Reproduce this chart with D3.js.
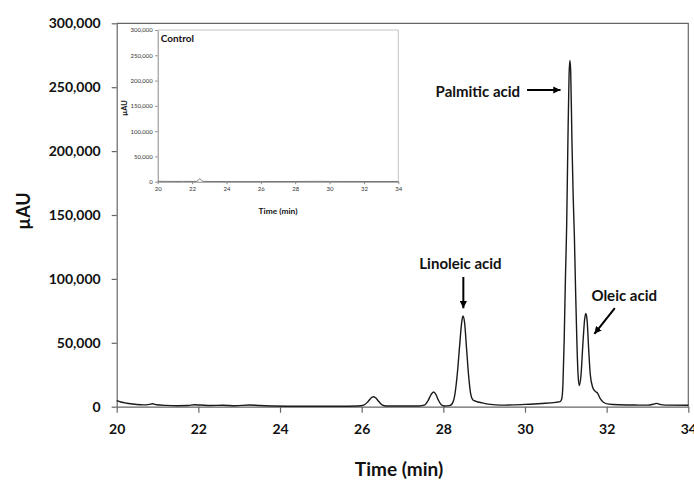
<!DOCTYPE html>
<html>
<head>
<meta charset="utf-8">
<script src="https://cdn.jsdelivr.net/npm/d3@7"></script>
<style>
  body { margin: 0; background: #fff; }
  svg { font-family: Lato, "Open Sans", sans-serif; }
  .lbl { font-weight: bold; fill: #111; }
</style>
</head>
<body>
<svg id="chart" width="694" height="480"></svg>
<script>
// main chromatogram (time in min, signal in µAU)
const mainTime = [20.00, 20.10, 20.25, 20.45, 20.65, 20.80, 20.88, 20.98, 21.20, 21.50, 21.75, 21.90, 22.05, 22.30, 22.60, 22.90,
  23.25, 23.50, 23.80, 24.20, 24.80, 25.40, 25.90, 26.05, 26.15, 26.22, 26.28, 26.34, 26.42, 26.50, 26.60, 27.00,
  27.40, 27.55, 27.63, 27.70, 27.76, 27.82, 27.88, 27.95, 28.02, 28.15, 28.22, 28.28, 28.34, 28.40, 28.45, 28.48,
  28.52, 28.57, 28.62, 28.67, 28.72, 28.80, 28.95, 29.15, 29.40, 29.70, 30.00, 30.40, 30.75, 30.86, 30.90, 30.93,
  30.96, 30.99, 31.02, 31.05, 31.08, 31.10, 31.12, 31.15, 31.18, 31.21, 31.24, 31.27, 31.30, 31.33, 31.37, 31.42,
  31.46, 31.49, 31.52, 31.56, 31.60, 31.66, 31.72, 31.78, 31.84, 31.92, 32.05, 32.30, 32.70, 33.00, 33.15, 33.22,
  33.30, 33.45, 34.00]
const mainSignal = [4800, 3700, 2700, 1900, 1400, 1800, 2300, 1500, 1000, 800, 900, 1500, 1300, 900, 1100, 800,
  1300, 900, 600, 400, 300, 300, 500, 1200, 3800, 6500, 7800, 7000, 4000, 1500, 600, 500,
  600, 1500, 5000, 9500, 11500, 9500, 5000, 1500, 500, 800, 2500, 9000, 25000, 48000, 66000, 71000,
  66000, 45000, 24000, 10000, 5500, 4200, 3000, 1800, 1200, 1400, 1800, 2500, 3400, 4000, 6000, 18000,
  52000, 100000, 140000, 205000, 260000, 271000, 262000, 208000, 165000, 133000, 90000, 52000, 25000, 16500, 24000, 50000,
  68000, 73000, 68000, 45000, 25000, 15000, 12000, 10500, 6500, 3500, 2000, 1500, 1300, 1200, 2000, 2600,
  1800, 1200, 1100]

// control run (inset)
const ctrlTime = [20.0, 20.5, 21.0, 21.5, 22.0, 22.25, 22.35, 22.45, 22.55, 22.65, 23.0, 24.0, 26.0, 28.0, 29.5, 30.0, 32.0, 34.0]
const ctrlSignal = [800, 600, 500, 600, 500, 600, 2500, 6000, 2500, 600, 400, 300, 300, 400, 700, 500, 400, 400]

const xTicks = [20, 22, 24, 26, 28, 30, 32, 34]
const yTicks = [0, 50000, 100000, 150000, 200000, 250000, 300000]

const peakLabels = ['Linoleic acid', 'Palmitic acid', 'Oleic acid']

const svg = d3.select('#chart')
const fmt = d3.format(',')

// ---------- main plot ----------
const m = { left: 116.7, top: 23.3, right: 688.3, bottom: 406.7 }
const x = d3.scaleLinear().domain([20, 34]).range([m.left, m.right])
const y = d3.scaleLinear().domain([0, 300000]).range([m.bottom, m.top])

const axisCol = '#666'

// frame (top + right)
svg.append('path')
  .attr('d', `M${m.left},${m.top}H${m.right}V${m.bottom}`)
  .attr('fill', 'none').attr('stroke', axisCol).attr('stroke-width', 1.2)

let gx = svg.append('g')
  .attr('transform', `translate(0,${m.bottom})`)
  .call(d3.axisBottom(x).tickValues(xTicks).tickSize(6).tickSizeOuter(0).tickPadding(11))
let gy = svg.append('g')
  .attr('transform', `translate(${m.left},0)`)
  .call(d3.axisLeft(y).tickValues(yTicks).tickFormat(fmt).tickSize(5).tickSizeOuter(0).tickPadding(11))

;[gx, gy].forEach(g => {
  g.select('.domain').attr('stroke', axisCol).attr('stroke-width', 1.2)
  g.selectAll('.tick line').attr('stroke', axisCol).attr('stroke-width', 1.2)
  g.selectAll('.tick text')
    .attr('font-family', 'Lato, sans-serif')
    .attr('font-size', 14).attr('font-weight', 'bold').attr('fill', '#111')
})

svg.append('text').attr('class', 'lbl')
  .attr('transform', 'translate(30,211) rotate(-90)')
  .attr('text-anchor', 'middle').attr('font-size', 18)
  .text('µAU')

svg.append('text').attr('class', 'lbl')
  .attr('x', 399).attr('y', 476)
  .attr('text-anchor', 'middle').attr('font-size', 19)
  .text('Time (min)')

const line = d3.line()
  .curve(d3.curveMonotoneX)
  .x((d, i) => x(mainTime[i]))
  .y(d => y(d))

svg.append('path')
  .datum(mainSignal)
  .attr('d', line)
  .attr('fill', 'none')
  .attr('stroke', '#1a1a1a')
  .attr('stroke-width', 1.4)

// ---------- annotations ----------
svg.append('defs').append('marker')
  .attr('id', 'head')
  .attr('viewBox', '0 0 10 10')
  .attr('refX', 10).attr('refY', 5)
  .attr('markerWidth', 3.6).attr('markerHeight', 3.6)
  .attr('orient', 'auto')
  .append('path').attr('d', 'M0,0L10,5L0,10z').attr('fill', '#000')

function arrow(t0, v0, t1, v1) {
  svg.append('line')
    .attr('x1', x(t0)).attr('y1', y(v0))
    .attr('x2', x(t1)).attr('y2', y(v1))
    .attr('stroke', '#000').attr('stroke-width', 2)
    .attr('marker-end', 'url(#head)')
}

// Linoleic
svg.append('text').attr('class', 'lbl').attr('font-size', 15)
  .attr('x', x(28.42)).attr('y', y(108000)).attr('text-anchor', 'middle')
  .text(peakLabels[0])
arrow(28.49, 101500, 28.49, 77000)

// Palmitic
svg.append('text').attr('class', 'lbl').attr('font-size', 15)
  .attr('x', x(29.88)).attr('y', y(242000)).attr('text-anchor', 'end')
  .text(peakLabels[1])
arrow(30.05, 247800, 30.87, 247800)

// Oleic
svg.append('text').attr('class', 'lbl').attr('font-size', 15)
  .attr('x', x(32.43)).attr('y', y(82500)).attr('text-anchor', 'middle')
  .text(peakLabels[2])
arrow(32.20, 77200, 31.70, 57000)

// ---------- inset (control) ----------
const ins = { left: 157.7, top: 30, right: 398.3, bottom: 181.7 }
const xi = d3.scaleLinear().domain([20, 34]).range([ins.left, ins.right])
const yi = d3.scaleLinear().domain([0, 300000]).range([ins.bottom, ins.top])

svg.append('path')
  .attr('d', `M${ins.left},${ins.top}H${ins.right}V${ins.bottom}`)
  .attr('fill', 'none').attr('stroke', '#c4c4c4').attr('stroke-width', 1)

let gxi = svg.append('g')
  .attr('transform', `translate(0,${ins.bottom})`)
  .call(d3.axisBottom(xi).tickValues(xTicks).tickSize(2.5).tickSizeOuter(0).tickPadding(3))
let gyi = svg.append('g')
  .attr('transform', `translate(${ins.left},0)`)
  .call(d3.axisLeft(yi).tickValues(yTicks).tickFormat(fmt).tickSize(2.5).tickSizeOuter(0).tickPadding(2.5))

;[gxi, gyi].forEach(g => {
  g.select('.domain').attr('stroke', '#8a8a8a').attr('stroke-width', 1)
  g.selectAll('.tick line').attr('stroke', '#8a8a8a')
  g.selectAll('.tick text')
    .attr('font-family', 'Lato, sans-serif')
    .attr('font-size', 6).attr('fill', '#333')
})

svg.append('path')
  .datum(ctrlSignal)
  .attr('d', d3.line().curve(d3.curveMonotoneX).x((d, i) => xi(ctrlTime[i])).y(d => yi(d)))
  .attr('fill', 'none')
  .attr('stroke', '#777')
  .attr('stroke-width', 1)

svg.append('text').attr('class', 'lbl')
  .attr('x', ins.left + 3).attr('y', 42)
  .attr('font-size', 10)
  .text('Control')

svg.append('text').attr('class', 'lbl')
  .attr('transform', 'translate(127,108) rotate(-90)')
  .attr('text-anchor', 'middle').attr('font-size', 7.5).attr('font-weight', 'normal')
  .text('µAU')

svg.append('text').attr('class', 'lbl')
  .attr('x', (ins.left + ins.right) / 2).attr('y', 213.5)
  .attr('text-anchor', 'middle').attr('font-size', 8.4)
  .text('Time (min)')
</script>
</body>
</html>
